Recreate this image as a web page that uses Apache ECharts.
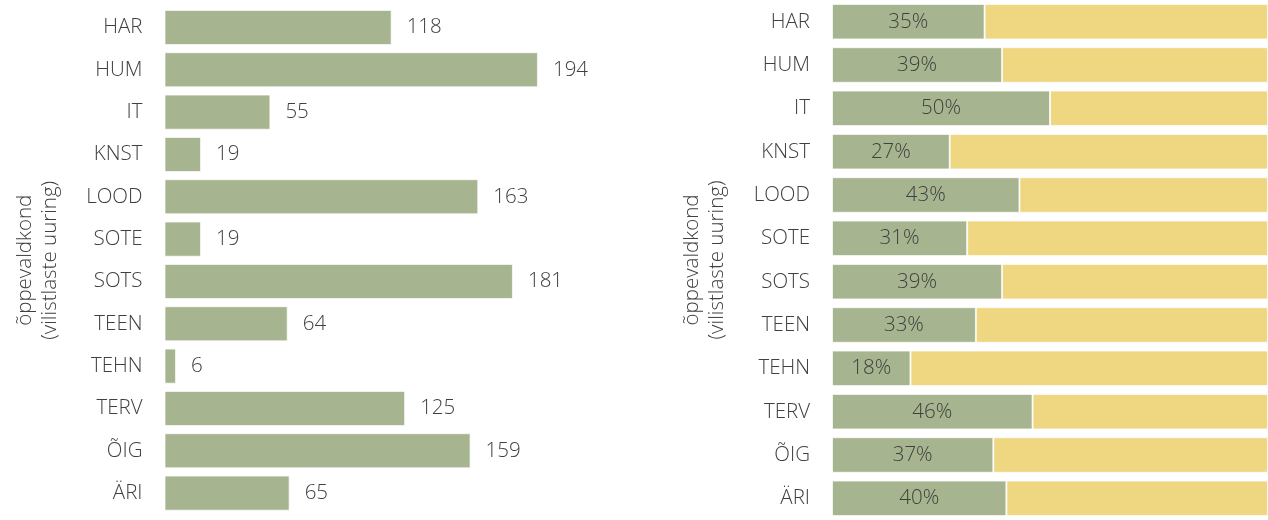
<!DOCTYPE html>
<html>
<head>
<meta charset="utf-8">
<script src="https://cdn.jsdelivr.net/npm/echarts@6/dist/echarts.min.js"></script>
<style>
  html, body { margin: 0; padding: 0; background: #fff; }
  #chart { width: 1268px; height: 520px; }
</style>
</head>
<body>
<div id="chart"></div>
<script>
  // õppevaldkonnad
  var categories = ['HAR', 'HUM', 'IT', 'KNST', 'LOOD', 'SOTE', 'SOTS', 'TEEN', 'TEHN', 'TERV', 'ÕIG', 'ÄRI']
  // vastajate arv
  var counts = [118, 194, 55, 19, 163, 19, 181, 64, 6, 125, 159, 65]
  // osakaal, %
  var shares = [35, 39, 50, 27, 43, 31, 39, 33, 18, 46, 37, 40]
  var axisTitle = 'õppevaldkond\n(vilistlaste uuring)'

  var green = '#a6b48f'
  var yellow = '#efd681'
  var textColor = '#404040'
  var font = '"Open Sans", "DejaVu Sans", sans-serif'
  var fontSize = 20.5
  var fontWeight = 300

  var rest = shares.map(function (v) { return 100 - v })

  function catAxis(gridIndex) {
    return {
      type: 'category',
      gridIndex: gridIndex,
      data: categories,
      inverse: true,
      axisLine: { show: false },
      axisTick: { show: false },
      axisLabel: { color: textColor, fontSize: fontSize, fontWeight: fontWeight, fontFamily: font, margin: 22 },
      name: axisTitle,
      nameLocation: 'middle',
      nameRotate: 90,
      nameGap: 102,
      nameTextStyle: { color: textColor, fontSize: fontSize, fontWeight: fontWeight, fontFamily: font, lineHeight: 25 }
    }
  }

  var chart = echarts.init(document.getElementById('chart'))
  chart.setOption({
    animation: false,
    grid: [
      { left: 164.5, top: 6.3, width: 385, height: 508 },
      { left: 832, top: -2.5, width: 437, height: 527.5 }
    ],
    xAxis: [
      { type: 'value', gridIndex: 0, min: 0, max: 200, show: false },
      { type: 'value', gridIndex: 1, min: 0, max: 100, show: false }
    ],
    yAxis: [catAxis(0), catAxis(1)],
    series: [
      {
        type: 'bar',
        xAxisIndex: 0,
        yAxisIndex: 0,
        data: counts,
        barCategoryGap: '17%',
        itemStyle: { color: green, borderColor: 'rgba(255,255,255,0.7)', borderWidth: 1 },
        label: {
          show: true,
          position: 'right',
          distance: 15,
          color: textColor,
          fontSize: fontSize,
          fontWeight: fontWeight,
          fontFamily: font
        }
      },
      {
        type: 'bar',
        xAxisIndex: 1,
        yAxisIndex: 1,
        stack: 'share',
        data: shares,
        barCategoryGap: '18%',
        itemStyle: { color: green, borderColor: 'rgba(255,255,255,0.7)', borderWidth: 1 },
        label: {
          show: true,
          position: 'inside',
          formatter: '{c}%',
          color: textColor,
          fontSize: fontSize,
          fontWeight: fontWeight,
          fontFamily: font
        }
      },
      {
        type: 'bar',
        xAxisIndex: 1,
        yAxisIndex: 1,
        stack: 'share',
        data: rest,
        barCategoryGap: '18%',
        itemStyle: { color: yellow, borderColor: 'rgba(255,255,255,0.7)', borderWidth: 1 }
      }
    ]
  })
</script>
</body>
</html>
